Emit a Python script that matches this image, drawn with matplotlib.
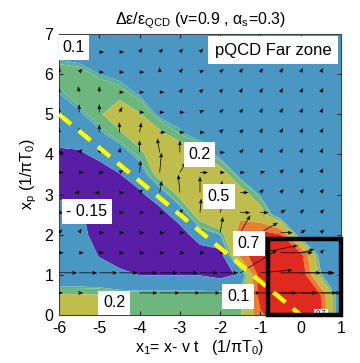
import numpy as np
import matplotlib
matplotlib.use("Agg")
import matplotlib.pyplot as plt
from matplotlib.patches import Rectangle

plt.rcParams['font.family'] = ['Liberation Sans', 'DejaVu Sans']
plt.rcParams['mathtext.fontset'] = 'custom'
plt.rcParams['mathtext.rm'] = 'Liberation Sans'
plt.rcParams['mathtext.it'] = 'Liberation Sans:italic'

# ---------------- data ----------------
x_nodes = [-6, -5.5, -5, -4.5, -4, -3.5, -3, -2.5, -2, -1.5, -1, -0.5, 0, 0.5, 1]
y_nodes = [0, 0.5, 1, 1.5, 2, 2.5, 3, 3.5, 4, 4.5, 5, 5.5, 6, 6.5, 7]

# field values, one list per x column (bottom -> top in y)
col_m6_0 = [0.30, 0.21, -0.05, -0.05, -0.08, -0.12, -0.16, -0.25, -0.20, -0.05, 0.00, 0.095, 0.17, 0.07, 0.03]
col_m5_5 = [0.26, 0.21, -0.05, -0.05, -0.07, -0.10, -0.22, -0.28, -0.18, -0.05, 0.08, 0.17, 0.16, 0.05, 0.03]
col_m5_0 = [0.22, 0.21, -0.08, -0.16, -0.25, -0.30, -0.30, -0.25, -0.10, 0.07, 0.18, 0.19, 0.10, 0.04, 0.03]
col_m4_5 = [0.18, 0.17, -0.10, -0.25, -0.30, -0.30, -0.30, -0.16, 0.02, 0.17, 0.30, 0.16, 0.07, 0.04, 0.03]
col_m4_0 = [0.18, 0.17, -0.155, -0.25, -0.30, -0.30, -0.20, 0.00, 0.15, 0.30, 0.21, 0.09, 0.05, 0.04, 0.03]
col_m3_5 = [0.18, 0.17, -0.16, -0.30, -0.30, -0.25, 0.00, 0.28, 0.35, 0.24, 0.07, 0.05, 0.04, 0.04, 0.03]
col_m3_0 = [0.18, 0.17, -0.16, -0.30, -0.28, -0.02, 0.25, 0.40, 0.35, 0.12, 0.05, 0.05, 0.04, 0.04, 0.03]
col_m2_5 = [0.18, 0.17, -0.16, -0.30, 0.00, 0.30, 0.45, 0.40, 0.22, 0.05, 0.04, 0.04, 0.04, 0.04, 0.03]
col_m2_0 = [0.18, 0.17, -0.22, -0.25, 0.10, 0.49, 0.45, 0.30, 0.05, 0.04, 0.04, 0.04, 0.04, 0.04, 0.03]
col_m1_5 = [0.18, 0.15, -0.12, 0.60, 0.62, 0.45, 0.30, 0.05, 0.04, 0.04, 0.04, 0.04, 0.04, 0.04, 0.03]
col_m1_0 = [0.66, 0.80, 0.85, 0.86, 0.80, 0.30, 0.08, 0.04, 0.04, 0.04, 0.04, 0.04, 0.04, 0.04, 0.03]
col_m0_5 = [0.85, 0.90, 0.92, 0.88, 0.71, -0.05, 0.04, 0.04, 0.04, 0.04, 0.04, 0.04, 0.04, 0.04, 0.03]
col_p0_0 = [0.85, 0.90, 0.90, 0.78, -0.05, 0.03, 0.04, 0.04, 0.04, 0.04, 0.04, 0.04, 0.04, 0.04, 0.03]
col_p0_5 = [0.72, 0.70, 0.12, -0.02, 0.03, 0.03, 0.03, 0.03, 0.04, 0.04, 0.04, 0.04, 0.04, 0.04, 0.03]
col_p1_0 = [-0.14, -0.14, -0.12, 0.03, 0.03, 0.03, 0.03, 0.03, 0.04, 0.04, 0.04, 0.04, 0.04, 0.04, 0.03]
field_columns = [col_m6_0, col_m5_5, col_m5_0, col_m4_5, col_m4_0, col_m3_5, col_m3_0, col_m2_5,
                 col_m2_0, col_m1_5, col_m1_0, col_m0_5, col_p0_0, col_p0_5, col_p1_0]

levels = [-1.0, -0.15, 0.10, 0.12, 0.20, 0.50, 0.70, 2.0]
band_colors = ['#5A1EA6', '#4B97C4', '#5DAE9E', '#6DB77E', '#BFBD4C', '#EA7E2E', '#E0291F']

# flow arrows: x positions, y positions, angle (deg) and length per row (bottom -> top)
arrow_x = [-6, -5.5, -5, -4.5, -4, -3.5, -3, -2.5, -2, -1.5, -1, -0.5, 0, 0.5]
arrow_y = [0.55, 1.05, 1.55, 2.05, 2.55, 3.05, 3.55, 4.05, 4.55, 5.05, 5.55, 6.05, 6.55]
arrow_angle = [
    [0, 0, 0, 0, 0, 0, 0, 0, 0, 0, 0, 0, 0, 0],
    [0, 0, 0, 0, 0, 0, 0, 0, 0, 32, 5, 0, 0, 0],
    [0, 0, 0, 0, 0, 0, 0, 0, 0, 40, 11, 0, 15, 45],
    [45, 60, 0, 0, 0, 0, 0, 45, 80, 60, 30, 0, 30, 45],
    [0, 0, 180, 0, 0, 0, 45, 85, 75, 0, 0, 30, 45, 45],
    [180, 180, 180, 0, 45, 80, 95, 90, 80, 0, 45, 45, 50, 50],
    [0, 0, 0, 30, 85, 85, 60, 0, 0, 0, 10, 45, 60, 60],
    [0, 45, 60, 80, 90, 100, 90, 0, 0, 45, 60, 60, 60, 60],
    [90, 90, 90, 90, 80, 0, 0, 0, 45, 45, 60, 60, 60, 60],
    [90, 90, 90, 60, 0, 0, 0, 30, 45, 50, 60, 60, 60, 60],
    [90, 100, 90, 0, 0, 0, 50, 45, 50, 60, 60, 60, 60, 60],
    [80, 45, 0, 0, 0, 90, 50, 30, 45, 60, 60, 60, 60, 60],
    [0, 0, 0, 0, 55, 45, 45, 45, 45, 60, 60, 60, 60, 60],
]
arrow_len = [
    [0.1, 0.1, 0.1, 0.1, 0.45, 0.5, 0.5, 0.5, 0.5, 0.5, 0.9, 0.9, 0.9, 0.5],
    [0.45, 0.45, 0.45, 0.45, 0.45, 0.45, 0.45, 0.45, 0.45, 1.08, 0.8, 1.0, 0.8, 0.35],
    [0.12, 0.12, 0.12, 0.12, 0.12, 0.12, 0.12, 0.12, 0.12, 0.5, 0.95, 0.8, 0.35, 0.12],
    [0.12, 0.12, 0.12, 0.12, 0.12, 0.12, 0.12, 0.12, 0.4, 0.5, 0.5, 0.3, 0.15, 0.12],
    [0.12, 0.12, 0.12, 0.12, 0.12, 0.12, 0.12, 0.35, 0.4, 0.25, 0.2, 0.15, 0.12, 0.12],
    [0.12, 0.12, 0.12, 0.12, 0.12, 0.3, 0.45, 0.4, 0.3, 0.2, 0.12, 0.12, 0.12, 0.12],
    [0.12, 0.12, 0.12, 0.12, 0.3, 0.5, 0.3, 0.2, 0.12, 0.12, 0.12, 0.12, 0.12, 0.12],
    [0.12, 0.12, 0.12, 0.12, 0.3, 0.35, 0.3, 0.12, 0.12, 0.12, 0.12, 0.12, 0.12, 0.12],
    [0.12, 0.12, 0.2, 0.25, 0.25, 0.15, 0.12, 0.12, 0.12, 0.12, 0.12, 0.12, 0.12, 0.12],
    [0.12, 0.2, 0.2, 0.15, 0.12, 0.12, 0.12, 0.12, 0.12, 0.12, 0.12, 0.12, 0.12, 0.12],
    [0.12, 0.15, 0.15, 0.12, 0.12, 0.12, 0.12, 0.12, 0.12, 0.12, 0.12, 0.12, 0.12, 0.12],
    [0.12, 0.12, 0.12, 0.12, 0.12, 0.12, 0.12, 0.12, 0.12, 0.12, 0.12, 0.12, 0.12, 0.12],
    [0.12, 0.12, 0.12, 0.12, 0.12, 0.12, 0.12, 0.12, 0.12, 0.12, 0.12, 0.12, 0.12, 0.12],
]

# dashed Mach-cone line end points
cone_x = [-6, 0]
cone_y = [5, 0]

# near-zone box
box_x0, box_y0, box_x1, box_y1 = -0.8, 0.0, 1.0, 1.9

# contour labels: (text, x, y, fontsize, pad)
labels = [
    ("0.1", -5.64, 6.67, 11.5, 0.3),
    ("pQCD Far zone", -0.68, 6.6, 12, 0.4),
    ("0.2", -2.51, 4.0, 11.5, 0.3),
    ("0.5", -2.03, 2.95, 11.5, 0.3),
    ("- 0.15", -5.31, 2.58, 11.5, 0.3),
    ("0.7", -1.29, 1.78, 11.5, 0.3),
    ("0.1", -1.55, 0.46, 11.5, 0.3),
    ("0.2", -4.63, 0.3, 11.5, 0.3),
    ("0.7", 0.5, 0.03, 5.5, 0.2),
]

x_ticks = [-6, -5, -4, -3, -2, -1, 0, 1]
y_ticks = [0, 1, 2, 3, 4, 5, 6, 7]

# ---------------- plot ----------------
fig = plt.figure(figsize=(3.6, 3.63), dpi=100)
ax = fig.add_axes([59 / 360, 48 / 363, 282 / 360, 281 / 363])

X, Y = np.meshgrid(x_nodes, y_nodes)
Z = np.array(field_columns).T
ax.contourf(X, Y, Z, levels=levels, colors=band_colors, antialiased=True, zorder=1)

AX, AY = np.meshgrid(arrow_x, arrow_y)
ang = np.deg2rad(np.array(arrow_angle))
L = np.array(arrow_len)
U = L * np.cos(ang)
V = L * np.sin(ang)
ax.quiver(AX, AY, U, V, angles='xy', scale_units='xy', scale=1, pivot='tail',
          color='black', width=0.0025, headwidth=5.5, headlength=7, headaxislength=6,
          minshaft=0.2, minlength=0.5, zorder=3)

ax.plot(cone_x, cone_y, color='#FFFF00', lw=3.2, dashes=(3.5, 2.2), zorder=4,
        solid_capstyle='butt', dash_capstyle='butt')

ax.add_patch(Rectangle((box_x0, box_y0), box_x1 - box_x0, box_y1 - box_y0, fill=False,
                       edgecolor='black', lw=3.2, zorder=6, clip_on=False))

for txt, lx, ly, fs, pd in labels:
    ax.text(lx, ly, txt, fontsize=fs, ha='center', va='center', zorder=5,
            bbox=dict(boxstyle='square,pad=%g' % pd, facecolor='white', edgecolor='none'),
            clip_on=True)

ax.set_xlim(-6, 1)
ax.set_ylim(0, 7)
ax.set_xticks(x_ticks)
ax.set_yticks(y_ticks)
ax.set_xticklabels([str(t) for t in x_ticks])
ax.set_yticklabels([str(t) for t in y_ticks])
ax.tick_params(direction='in', top=True, right=True, length=3, width=0.6,
               labelsize=11.5, pad=4)
for s in ax.spines.values():
    s.set_linewidth(0.8)
    s.set_color('#444444')

ax.set_title(r'Δε/ε$_{\mathrm{QCD}}$ (v=0.9 , α$_\mathrm{s}$=0.3)', fontsize=11.5, pad=7)
ax.set_xlabel(r'x$_1$= x- v t   (1/πT$_0$)', fontsize=11.5, labelpad=2)
ax.set_ylabel(r'x$_\mathrm{p}$ (1/πT$_0$)', fontsize=11.5, labelpad=4)

fig.savefig('out.png', dpi=100)
